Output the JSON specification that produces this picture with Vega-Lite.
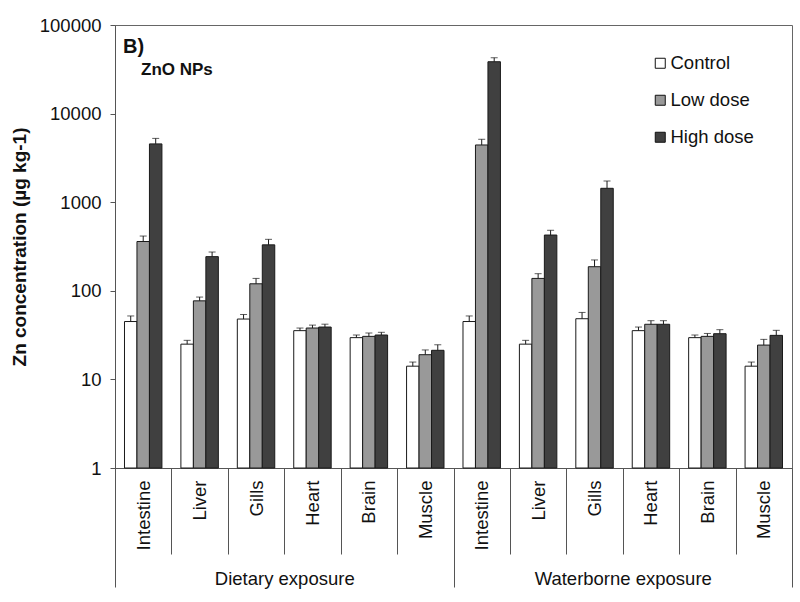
{
  "$schema": "https://vega.github.io/schema/vega-lite/v6.json",
  "width": 677,
  "height": 443,
  "autosize": {"type": "none"},
  "padding": {"left": 115, "top": 25, "right": 8, "bottom": 134},
  "background": "white",
  "config": {
    "view": {"stroke": "#666666", "strokeWidth": 1},
    "font": "Liberation Sans",
    "axis": {"labelFont": "Liberation Sans", "titleFont": "Liberation Sans", "labelColor": "#111111", "titleColor": "#111111", "domainColor": "#555555", "tickColor": "#555555", "grid": false}
  },
  "datasets": {
    "bars": [
      {"exposure": "Dietary exposure", "cat": "Dietary exposure|Intestine", "dose": "Control", "value": 45, "upper": 52},
      {"exposure": "Dietary exposure", "cat": "Dietary exposure|Intestine", "dose": "Low dose", "value": 360, "upper": 415},
      {"exposure": "Dietary exposure", "cat": "Dietary exposure|Intestine", "dose": "High dose", "value": 4550, "upper": 5250},
      {"exposure": "Dietary exposure", "cat": "Dietary exposure|Liver", "dose": "Control", "value": 25, "upper": 27.6},
      {"exposure": "Dietary exposure", "cat": "Dietary exposure|Liver", "dose": "Low dose", "value": 77, "upper": 85},
      {"exposure": "Dietary exposure", "cat": "Dietary exposure|Liver", "dose": "High dose", "value": 243, "upper": 274},
      {"exposure": "Dietary exposure", "cat": "Dietary exposure|Gills", "dose": "Control", "value": 48, "upper": 54},
      {"exposure": "Dietary exposure", "cat": "Dietary exposure|Gills", "dose": "Low dose", "value": 120, "upper": 138},
      {"exposure": "Dietary exposure", "cat": "Dietary exposure|Gills", "dose": "High dose", "value": 330, "upper": 381},
      {"exposure": "Dietary exposure", "cat": "Dietary exposure|Heart", "dose": "Control", "value": 35.5, "upper": 38},
      {"exposure": "Dietary exposure", "cat": "Dietary exposure|Heart", "dose": "Low dose", "value": 38, "upper": 41},
      {"exposure": "Dietary exposure", "cat": "Dietary exposure|Heart", "dose": "High dose", "value": 39, "upper": 42},
      {"exposure": "Dietary exposure", "cat": "Dietary exposure|Brain", "dose": "Control", "value": 29.6, "upper": 31.7},
      {"exposure": "Dietary exposure", "cat": "Dietary exposure|Brain", "dose": "Low dose", "value": 30.6, "upper": 33.4},
      {"exposure": "Dietary exposure", "cat": "Dietary exposure|Brain", "dose": "High dose", "value": 31.7, "upper": 34},
      {"exposure": "Dietary exposure", "cat": "Dietary exposure|Muscle", "dose": "Control", "value": 14.1, "upper": 15.7},
      {"exposure": "Dietary exposure", "cat": "Dietary exposure|Muscle", "dose": "Low dose", "value": 19, "upper": 21.5},
      {"exposure": "Dietary exposure", "cat": "Dietary exposure|Muscle", "dose": "High dose", "value": 21.3, "upper": 24.6},
      {"exposure": "Waterborne exposure", "cat": "Waterborne exposure|Intestine", "dose": "Control", "value": 45, "upper": 52},
      {"exposure": "Waterborne exposure", "cat": "Waterborne exposure|Intestine", "dose": "Low dose", "value": 4425, "upper": 5130},
      {"exposure": "Waterborne exposure", "cat": "Waterborne exposure|Intestine", "dose": "High dose", "value": 38500, "upper": 42700},
      {"exposure": "Waterborne exposure", "cat": "Waterborne exposure|Liver", "dose": "Control", "value": 25, "upper": 27.6},
      {"exposure": "Waterborne exposure", "cat": "Waterborne exposure|Liver", "dose": "Low dose", "value": 138, "upper": 156},
      {"exposure": "Waterborne exposure", "cat": "Waterborne exposure|Liver", "dose": "High dose", "value": 426, "upper": 482},
      {"exposure": "Waterborne exposure", "cat": "Waterborne exposure|Gills", "dose": "Control", "value": 48.4, "upper": 57},
      {"exposure": "Waterborne exposure", "cat": "Waterborne exposure|Gills", "dose": "Low dose", "value": 187, "upper": 223},
      {"exposure": "Waterborne exposure", "cat": "Waterborne exposure|Gills", "dose": "High dose", "value": 1435, "upper": 1735},
      {"exposure": "Waterborne exposure", "cat": "Waterborne exposure|Heart", "dose": "Control", "value": 35.5, "upper": 39},
      {"exposure": "Waterborne exposure", "cat": "Waterborne exposure|Heart", "dose": "Low dose", "value": 41.9, "upper": 46},
      {"exposure": "Waterborne exposure", "cat": "Waterborne exposure|Heart", "dose": "High dose", "value": 41.9, "upper": 46},
      {"exposure": "Waterborne exposure", "cat": "Waterborne exposure|Brain", "dose": "Control", "value": 29.6, "upper": 31.7},
      {"exposure": "Waterborne exposure", "cat": "Waterborne exposure|Brain", "dose": "Low dose", "value": 30.6, "upper": 33},
      {"exposure": "Waterborne exposure", "cat": "Waterborne exposure|Brain", "dose": "High dose", "value": 32.8, "upper": 36.4},
      {"exposure": "Waterborne exposure", "cat": "Waterborne exposure|Muscle", "dose": "Control", "value": 14.1, "upper": 15.7},
      {"exposure": "Waterborne exposure", "cat": "Waterborne exposure|Muscle", "dose": "Low dose", "value": 24.4, "upper": 28.3},
      {"exposure": "Waterborne exposure", "cat": "Waterborne exposure|Muscle", "dose": "High dose", "value": 31.4, "upper": 35.8}
    ],
    "notes": [
      {"cat": "Dietary exposure|Intestine", "label": "B)", "y": 48000, "kind": "panel"},
      {"cat": "Dietary exposure|Intestine", "label": "ZnO NPs", "y": 27000, "kind": "sub"}
    ],
    "exposures": [
      {"exposure": "Dietary exposure"},
      {"exposure": "Waterborne exposure"}
    ]
  },
  "layer": [
    {
      "encoding": {
        "x": {
          "field": "cat", "type": "nominal",
          "scale": {"domain": ["Dietary exposure|Intestine", "Dietary exposure|Liver", "Dietary exposure|Gills", "Dietary exposure|Heart", "Dietary exposure|Brain", "Dietary exposure|Muscle", "Waterborne exposure|Intestine", "Waterborne exposure|Liver", "Waterborne exposure|Gills", "Waterborne exposure|Heart", "Waterborne exposure|Brain", "Waterborne exposure|Muscle"], "paddingInner": 0, "paddingOuter": 0},
          "axis": {
            "title": null, "orient": "bottom", "tickBand": "extent", "tickSize": 86,
            "labelAngle": 270, "labelAlign": "right", "labelBaseline": "middle",
            "labelPadding": -74, "labelFontSize": 18.5,
            "labelExpr": "split(datum.label, '|')[1]"
          }
        }
      },
      "layer": [
        {
          "data": {"name": "bars"},
          "mark": {"type": "bar", "stroke": "#1a1a1a", "strokeWidth": 1},
          "encoding": {
            "xOffset": {"field": "dose", "type": "nominal", "sort": ["Control", "Low dose", "High dose"], "scale": {"paddingInner": 0, "paddingOuter": 0.76}},
            "y": {
              "field": "value", "type": "quantitative",
              "scale": {"type": "log", "domain": [1, 100000], "nice": false},
              "axis": {"values": [1, 10, 100, 1000, 10000, 100000], "format": "d", "labelFontSize": 18.5, "tickSize": 5, "labelPadding": 9, "title": "Zn concentration (µg kg-1)", "titleFontSize": 19, "titleFontWeight": "bold", "titlePadding": 10}
            },
            "y2": {"datum": 1},
            "color": {
              "field": "dose", "type": "nominal",
              "sort": ["Control", "Low dose", "High dose"],
              "scale": {"domain": ["Control", "Low dose", "High dose"], "range": ["#ffffff", "#999999", "#404040"]},
              "legend": {
                "title": null, "orient": "none", "legendX": 536, "legendY": 29,
                "symbolType": "square", "symbolSize": 100, "symbolStrokeColor": "#111111", "symbolStrokeWidth": 1,
                "labelFont": "Liberation Sans", "labelFontSize": 18.5, "labelColor": "#111111", "labelOffset": 1,
                "rowPadding": 18, "padding": 0
              }
            }
          }
        },
        {
          "data": {"name": "bars"},
          "mark": {"type": "rule", "color": "#1a1a1a", "strokeWidth": 1},
          "encoding": {
            "xOffset": {"field": "dose", "type": "nominal", "sort": ["Control", "Low dose", "High dose"]},
            "y": {"field": "value", "type": "quantitative"},
            "y2": {"field": "upper"}
          }
        },
        {
          "data": {"name": "bars"},
          "mark": {"type": "tick", "orient": "horizontal", "color": "#1a1a1a", "size": 7, "thickness": 1},
          "encoding": {
            "xOffset": {"field": "dose", "type": "nominal", "sort": ["Control", "Low dose", "High dose"]},
            "y": {"field": "upper", "type": "quantitative"}
          }
        },
        {
          "data": {"name": "notes"},
          "transform": [{"filter": "datum.kind == 'panel'"}],
          "mark": {"type": "text", "align": "left", "baseline": "alphabetic", "font": "Liberation Sans", "fontWeight": "bold", "fontSize": 20, "color": "#111111", "dx": 8},
          "encoding": {
            "x": {"field": "cat", "type": "nominal", "bandPosition": 0},
            "y": {"field": "y", "type": "quantitative"},
            "text": {"field": "label"}
          }
        },
        {
          "data": {"name": "notes"},
          "transform": [{"filter": "datum.kind == 'sub'"}],
          "mark": {"type": "text", "align": "left", "baseline": "alphabetic", "font": "Liberation Sans", "fontWeight": "bold", "fontSize": 17, "color": "#111111", "dx": 26},
          "encoding": {
            "x": {"field": "cat", "type": "nominal", "bandPosition": 0},
            "y": {"field": "y", "type": "quantitative"},
            "text": {"field": "label"}
          }
        }
      ]
    },
    {
      "data": {"name": "exposures"},
      "mark": {"type": "rule", "opacity": 0},
      "encoding": {
        "x": {
          "field": "exposure", "type": "nominal", "sort": null,
          "scale": {"paddingInner": 0, "paddingOuter": 0},
          "axis": {"title": null, "orient": "bottom", "domain": false, "tickBand": "extent", "tickSize": 119, "labelAngle": 0, "labelAlign": "center", "labelBaseline": "alphabetic", "labelPadding": -3, "labelFontSize": 18.5}
        }
      }
    }
  ],
  "resolve": {"scale": {"x": "independent"}, "axis": {"x": "independent"}}
}
